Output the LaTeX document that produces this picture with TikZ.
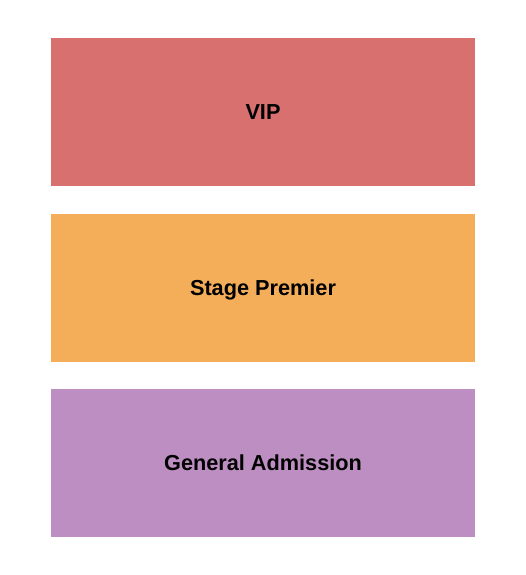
\documentclass[tikz,border=0pt]{standalone}
\usepackage{fontspec}
\setmainfont{Liberation Sans}
\usepackage{tikz}
\usetikzlibrary{positioning}

\definecolor{vipcol}{HTML}{D7706E}
\definecolor{stagecol}{HTML}{F4AE5A}
\definecolor{gacol}{HTML}{BD8EC1}

\begin{document}
\begin{tikzpicture}[
  x=1pt,y=1pt,node distance=27.5pt,
  section/.style={rectangle,minimum width=424pt,minimum height=148pt,inner sep=0pt,outer sep=0pt,text height=15.5pt,text depth=0pt,font=\fontsize{21.7}{26}\selectfont\bfseries,text=black}]
      \useasboundingbox (0,0) rectangle (525,-575);

     \node [section,fill=vipcol,anchor=north west] (vip) at (51,-38) {VIP};
     \node [section,fill=stagecol,below=of vip] (stage) {Stage Premier};
     \node [section,fill=gacol,below=of stage] (ga) {General Admission};

  \end{tikzpicture}
\end{document}
